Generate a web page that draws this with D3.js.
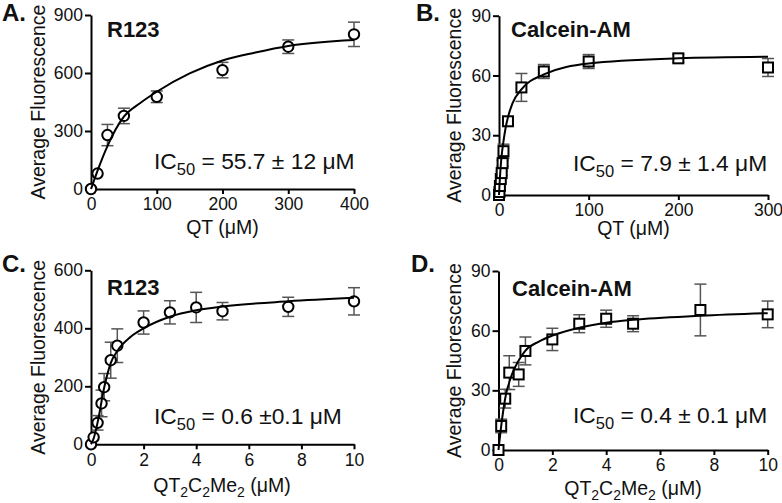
<!DOCTYPE html>
<html><head><meta charset="utf-8">
<script src="https://cdn.jsdelivr.net/npm/d3@7"></script>
<style>
body{margin:0;background:#fff}
svg{display:block}
text{font-family:"Liberation Sans",Arial,Helvetica,sans-serif;fill:#111}
</style>
</head><body>
<svg width="782" height="503"></svg>
<script>
// ---------- Data ----------
// Panel A: R123 vs QT
const aX = [0, 10, 25, 50, 100, 200, 300, 400];
const aY = [0, 80, 279, 378, 477, 615, 736, 800];
const aErr = [0, 0, 55, 40, 30, 40, 35, 63];
const aFitX = [0, 5, 10, 25, 50, 75, 100, 150, 200, 250, 300, 400];
const aFitY = [0, 48, 95, 222, 374, 445, 503, 598, 665, 706, 740, 771];

// Panel B: Calcein-AM vs QT
const bX = [0, 0.5, 1, 2, 3, 4, 5, 10, 25, 50, 100, 200, 300];
const bY = [0, 1.5, 4.5, 8, 11, 16, 22, 37, 54, 62, 67, 68.6, 64];
const bErr = [0, 0, 0, 0, 1, 1.5, 3.5, 2, 7, 3.5, 3.5, 2, 4.5];
const bFitX = [0, 1, 2, 3, 5, 7.5, 10, 15, 25, 50, 100, 200, 300];
const bFitY = [0, 8.5, 15, 20, 27, 34, 39, 46, 53, 60.5, 66, 68.6, 69.4];

// Panel C: R123 vs QT2C2Me2
const cX = [0, 0.1, 0.25, 0.4, 0.5, 0.75, 1, 2, 3, 4, 5, 7.5, 10];
const cY = [0, 24, 74, 141, 197, 290, 340, 420, 455, 472, 459, 474, 493];
const cErr = [0, 0, 25, 46, 47, 62, 58, 40, 40, 52, 30, 33, 47];
const cFitX = [0, 0.1, 0.25, 0.5, 0.75, 1, 1.5, 2, 3, 4, 5, 7.5, 10];
const cFitY = [0, 20, 75, 195, 280, 322, 370, 400, 440, 462, 475, 493, 505];

// Panel D: Calcein-AM vs QT2C2Me2
const dX = [0, 0.1, 0.25, 0.4, 0.75, 1, 2, 3, 4, 5, 7.5, 10];
const dY = [0, 12.1, 25.8, 38.9, 38, 49.8, 55.6, 63.5, 66, 63.5, 70.4, 68.2];
const dErr = [0, 3.4, 4.7, 8.5, 6, 7, 5.6, 4.5, 4.3, 4, 13, 6.7];
const dFitX = [0, 0.1, 0.25, 0.5, 0.75, 1, 1.5, 2, 3, 4, 5, 7.5, 10];
const dFitY = [0, 12, 26, 38, 45, 50, 54.5, 57.5, 61.5, 64, 65.5, 67.5, 68.8];

// Tick values
const xTicksA = [0, 100, 200, 300, 400];
const yTicksA = [0, 300, 600, 900];
const xTicksB = [0, 100, 200, 300];
const yTicksB = [0, 30, 60, 90];
const xTicksCD = [0, 2, 4, 6, 8, 10];
const yTicksC = [0, 200, 400, 600];
const yTicksD = [0, 30, 60, 90];

// Texts
const letters = ["A.", "B.", "C.", "D."];
const probes = ["R123", "Calcein-AM", "R123", "Calcein-AM"];
const icValues = ["55.7 \u00b1 12 \u03bcM", "7.9 \u00b1 1.4 \u03bcM", "0.6 \u00b10.1 \u03bcM", "0.4 \u00b1 0.1 \u03bcM"];
const yTitle = "Average Fluorescence";

// ---------- Layout ----------
const panels = [
  {xs:aX, ys:aY, es:aErr, fx:aFitX, fy:aFitY, marker:"circle", xDom:[0,400], yDom:[0,900], xT:xTicksA, yT:yTicksA,
   x0:91, x1:354, yb:189, yt:15, letter:[2,21], probe:[107,37], ic:[154,169], yTitleX:45, xTitle:[222.5,234], xq:"QT"},
  {xs:bX, ys:bY, es:bErr, fx:bFitX, fy:bFitY, marker:"square", xDom:[0,300], yDom:[0,90], xT:xTicksB, yT:yTicksB,
   x0:499, x1:768, yb:195, yt:15.7, letter:[416,21], probe:[511,37], ic:[573,171], yTitleX:461, xTitle:[633.5,235], xq:"QT"},
  {xs:cX, ys:cY, es:cErr, fx:cFitX, fy:cFitY, marker:"circle", xDom:[0,10], yDom:[0,600], xT:xTicksCD, yT:yTicksC,
   x0:91, x1:354, yb:444.3, yt:270.3, letter:[2,272], probe:[107,295], ic:[154,424], yTitleX:45, xTitle:[222,492], xq:"QT2C2Me2"},
  {xs:dX, ys:dY, es:dErr, fx:dFitX, fy:dFitY, marker:"square", xDom:[0,10], yDom:[0,90], xT:xTicksCD, yT:yTicksD,
   x0:498.5, x1:767.7, yb:450, yt:271, letter:[411,272], probe:[512,296], ic:[573,423], yTitleX:461, xTitle:[633,495], xq:"QT2C2Me2"}
];

const svg = d3.select("svg");

function addSubText(sel, parts, size, subSize) {
  let prevSub = false;
  parts.forEach(([t, sub]) => {
    const ts = sel.append("tspan").text(t);
    if (sub) { ts.attr("font-size", subSize).attr("dy", prevSub ? 0 : size*0.28); }
    else { ts.attr("font-size", size).attr("dy", prevSub ? -size*0.28 : 0); }
    prevSub = sub;
  });
}

panels.forEach((p, i) => {
  const x = d3.scaleLinear().domain(p.xDom).range([p.x0, p.x1]);
  const y = d3.scaleLinear().domain(p.yDom).range([p.yb, p.yt]);
  const g = svg.append("g");

  // axes
  const xa = g.append("g").attr("transform", `translate(0,${p.yb})`)
    .call(d3.axisBottom(x).tickValues(p.xT).tickSize(5).tickSizeOuter(0).tickPadding(4));
  const ya = g.append("g").attr("transform", `translate(${p.x0},0)`)
    .call(d3.axisLeft(y).tickValues(p.yT).tickSize(6).tickSizeOuter(0).tickPadding(2));
  [xa, ya].forEach(a => {
    a.select(".domain").attr("stroke", "#000").attr("stroke-width", 2);
    a.selectAll(".tick line").attr("stroke", "#000").attr("stroke-width", 2);
    a.selectAll(".tick text").attr("font-size", 17.5).attr("fill", "#111")
      .attr("font-family", '"Liberation Sans",Arial,sans-serif');
  });

  // error bars
  const eb = g.append("g").attr("stroke", "#555").attr("stroke-width", 1.5);
  p.xs.forEach((xv, j) => {
    const e = p.es[j];
    if (!e) return;
    const cx = x(xv), y1 = y(p.ys[j] - e), y2 = y(p.ys[j] + e);
    eb.append("line").attr("x1", cx).attr("x2", cx).attr("y1", y1).attr("y2", y2);
    eb.append("line").attr("x1", cx-6).attr("x2", cx+6).attr("y1", y1).attr("y2", y1);
    eb.append("line").attr("x1", cx-6).attr("x2", cx+6).attr("y1", y2).attr("y2", y2);
  });

  // markers
  const mk = g.append("g").attr("fill", "#fff").attr("stroke", "#000").attr("stroke-width", 2);
  p.xs.forEach((xv, j) => {
    if (p.marker === "circle") {
      mk.append("circle").attr("cx", x(xv)).attr("cy", y(p.ys[j])).attr("r", 5.2);
    } else {
      mk.append("rect").attr("x", x(xv)-5).attr("y", y(p.ys[j])-5).attr("width", 10).attr("height", 10);
    }
  });

  // fit curve
  const line = d3.line().x((d) => x(d[0])).y((d) => y(d[1])).curve(d3.curveMonotoneX);
  g.append("path").datum(p.fx.map((v, k) => [v, p.fy[k]]))
    .attr("d", line).attr("fill", "none").attr("stroke", "#000").attr("stroke-width", 2);

  // texts
  g.append("text").attr("x", p.letter[0]).attr("y", p.letter[1]).attr("font-size", 24)
    .attr("font-weight", "bold").attr("fill", "#000").text(letters[i]);
  g.append("text").attr("x", p.probe[0]).attr("y", p.probe[1]).attr("font-size", 22)
    .attr("font-weight", "bold").attr("fill", "#000").text(probes[i]);
  const ic = g.append("text").attr("x", p.ic[0]).attr("y", p.ic[1]).attr("fill", "#111");
  addSubText(ic, [["IC", false], ["50", true], [" = " + icValues[i], false]], 22.8, 16.5);

  g.append("text").attr("transform", `translate(${p.yTitleX},${(p.yb + p.yt)/2}) rotate(-90)`)
    .attr("text-anchor", "middle").attr("font-size", 19.5).text(yTitle);

  const xt = g.append("text").attr("x", p.xTitle[0]).attr("y", p.xTitle[1]).attr("text-anchor", "middle");
  if (p.xq === "QT") {
    addSubText(xt, [["QT (\u03bcM)", false]], 19.5, 14);
  } else {
    addSubText(xt, [["QT", false], ["2", true], ["C", false], ["2", true], ["Me", false], ["2", true], [" (\u03bcM)", false]], 19.5, 14);
  }
});
</script>
</body></html>
